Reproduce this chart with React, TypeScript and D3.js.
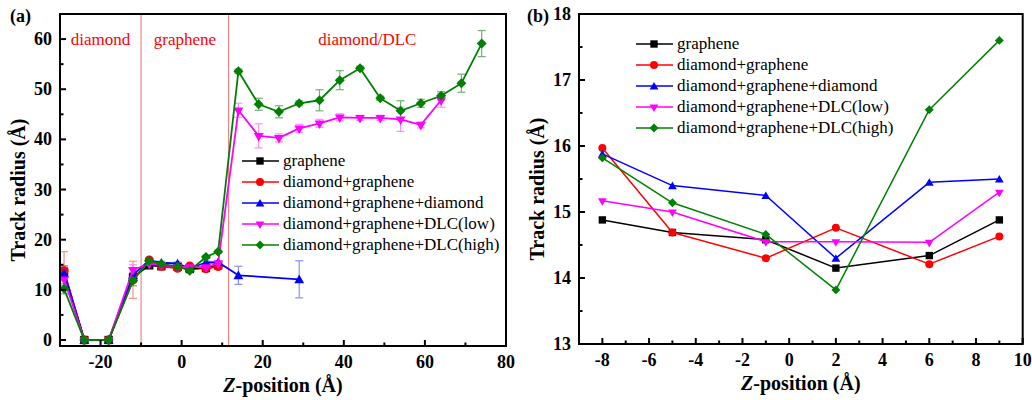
import React from "react";
import * as d3 from "d3";

// ---------- DATA ----------
const seriesNames = [
  "graphene",
  "diamond+graphene",
  "diamond+graphene+diamond",
  "diamond+graphene+DLC(low)",
  "diamond+graphene+DLC(high)",
];
const seriesColors = ["#000000", "#ff0000", "#0000ff", "#ff00ff", "#008000"];
const errColors = ["#777777", "#ff8080", "#8080ff", "#ff80ff", "#66aa66"];

// panel (a)
const zBase = [-29, -24, -18, -12, -8, -5, -1, 2, 6, 9];
const zBlueExtra = [14, 29];
const zLowExtra = [14, 19, 24, 29, 34, 39, 44, 49, 54, 59, 64];
const zHighExtra = [14, 19, 24, 29, 34, 39, 44, 49, 54, 59, 64, 69, 74];

const aGraphene = [13.5, 0, 0, 12.5, 14.88, 14.69, 14.58, 14.15, 14.34, 14.88];
const aDiaGra = [13.8, 0, 0, 12.0, 15.97, 14.69, 14.3, 14.76, 14.21, 14.63];
const aDiaGraDia = [13.3, 0, 0, 13.0, 15.88, 15.4, 15.25, 14.3, 15.45, 15.5, 12.9, 12.1];
const aLow = [12.1, 0, 0, 14.0, 15.17, 15.0, 14.55, 14.55, 14.54, 15.3,
  45.8, 40.7, 40.3, 42.2, 43.2, 44.4, 44.3, 44.3, 44.0, 42.9, 47.8];
const aHigh = [10.2, 0, 0, 11.8, 15.82, 15.14, 14.66, 13.82, 16.55, 17.6,
  53.6, 47.0, 45.5, 47.2, 47.8, 51.8, 54.2, 48.2, 45.7, 47.2, 48.7, 51.2, 59.1];

const eGraphene = [1.0, 0, 0, 1.0, 0.3, 0.3, 0.3, 0.3, 0.3, 0.3];
const eDiaGra = [3.8, 0, 0, 3.7, 0.3, 0.3, 0.3, 0.3, 0.3, 0.3];
const eDiaGraDia = [1.5, 0, 0, 1.2, 0.3, 0.3, 0.3, 0.3, 0.3, 0.3, 1.8, 3.7];
const eLow = [1.2, 0, 0, 1.0, 0.3, 0.3, 0.3, 0.3, 0.3, 0.3,
  1.4, 2.4, 0.8, 0.8, 0.8, 0.7, 0.5, 0.5, 2.4, 0.6, 1.4];
const eHigh = [1.0, 0, 0, 1.0, 0.3, 0.3, 0.3, 0.3, 0.3, 0.3,
  0.4, 1.2, 1.2, 0.5, 2.1, 1.9, 0.4, 0.4, 2.0, 0.8, 0.8, 1.8, 2.6];

// panel (b)
const zB = [-8, -5, -1, 2, 6, 9];
const bGraphene = [14.88, 14.69, 14.58, 14.15, 14.34, 14.88];
const bDiaGra = [15.97, 14.69, 14.3, 14.76, 14.21, 14.63];
const bDiaGraDia = [15.88, 15.4, 15.25, 14.3, 15.45, 15.5];
const bLow = [15.17, 15.0, 14.55, 14.55, 14.54, 15.3];
const bHigh = [15.82, 15.14, 14.66, 13.82, 16.55, 17.6];

const regionLabels = ["diamond", "graphene", "diamond/DLC"];
const regionBounds = [-10, 11.6];

const xTicksA = [-20, 0, 20, 40, 60, 80];
const yTicksA = [0, 10, 20, 30, 40, 50, 60];
const xTicksB = [-8, -6, -4, -2, 0, 2, 4, 6, 8, 10];
const yTicksB = [13, 14, 15, 16, 17, 18];

// ---------- HELPERS ----------
const FONT = "Liberation Serif, Times New Roman, serif";
const shapes = ["square", "circle", "tri", "itri", "diamond"];

function markerPath(kind: string, s: number) {
  if (kind === "square") return d3.symbol(d3.symbolSquare, s * s * 0.85)();
  if (kind === "circle") return d3.symbol(d3.symbolCircle, (Math.PI * s * s) / 4)();
  if (kind === "tri" || kind === "itri") return d3.symbol(d3.symbolTriangle, (Math.sqrt(3) / 4) * s * s * 1.2)();
  return d3.symbol(d3.symbolSquare, (s * s) * 0.62)();
}
function markerTransform(kind: string, x: number, y: number) {
  if (kind === "itri") return `translate(${x},${y}) rotate(180)`;
  if (kind === "diamond") return `translate(${x},${y}) rotate(45)`;
  if (kind === "tri") return `translate(${x},${y + 1})`;
  return `translate(${x},${y})`;
}

type Series = { x: number[]; y: number[]; e?: number[] };

function Panel(props: {
  x0: number; x1: number; y0: number; y1: number;
  xDom: [number, number]; yDom: [number, number];
  xTicks: number[]; yTicks: number[];
  xMinor: number[]; yMinor: number[];
  series: Series[]; msize: number; lw: number;
  legendX: number; legendY: number; legendDy: number;
  labelX: number;
  children?: (x: d3.ScaleLinear<number, number>, y: d3.ScaleLinear<number, number>) => React.ReactNode;
}) {
  const p = props;
  const x = d3.scaleLinear().domain(p.xDom).range([p.x0, p.x1]);
  const y = d3.scaleLinear().domain(p.yDom).range([p.y1, p.y0]);
  const line = d3.line<[number, number]>().x((d) => x(d[0])).y((d) => y(d[1]));
  const cx = (p.x0 + p.x1) / 2;
  const cy = (p.y0 + p.y1) / 2;
  const tf = { fontFamily: FONT };
  return (
    <g>
      {p.children && p.children(x, y)}
      {/* error bars */}
      {p.series.map((s, i) =>
        s.e ? (
          <g key={"e" + i} stroke={errColors[i]} strokeWidth={1.2} opacity={0.9}>
            {s.x.map((xv, j) =>
              s.e![j] > 0 ? (
                <g key={j}>
                  <line x1={x(xv)} x2={x(xv)} y1={y(s.y[j] - s.e![j])} y2={y(s.y[j] + s.e![j])} />
                  <line x1={x(xv) - 4} x2={x(xv) + 4} y1={y(s.y[j] - s.e![j])} y2={y(s.y[j] - s.e![j])} />
                  <line x1={x(xv) - 4} x2={x(xv) + 4} y1={y(s.y[j] + s.e![j])} y2={y(s.y[j] + s.e![j])} />
                </g>
              ) : null
            )}
          </g>
        ) : null
      )}
      {/* lines and markers */}
      {p.series.map((s, i) => (
        <g key={"s" + i}>
          <path
            d={line(s.x.map((xv, j) => [xv, s.y[j]] as [number, number])) || ""}
            fill="none"
            stroke={seriesColors[i]}
            strokeWidth={p.lw}
            strokeLinejoin="round"
          />
          {s.x.map((xv, j) => (
            <path
              key={j}
              d={markerPath(shapes[i], p.msize) || ""}
              transform={markerTransform(shapes[i], x(xv), y(s.y[j]))}
              fill={seriesColors[i]}
            />
          ))}
        </g>
      ))}
      {/* frame */}
      <rect x={p.x0} y={p.y0} width={p.x1 - p.x0} height={p.y1 - p.y0} fill="none" stroke="#000" strokeWidth={2} />
      {/* ticks */}
      <g stroke="#000" strokeWidth={2}>
        {p.xTicks.map((t) => (
          <line key={"xt" + t} x1={x(t)} x2={x(t)} y1={p.y1} y2={p.y1 - 6} />
        ))}
        {p.xMinor.map((t) => (
          <line key={"xm" + t} x1={x(t)} x2={x(t)} y1={p.y1} y2={p.y1 - 3.5} />
        ))}
        {p.yTicks.map((t) => (
          <line key={"yt" + t} x1={p.x0} x2={p.x0 + 6} y1={y(t)} y2={y(t)} />
        ))}
        {p.yMinor.map((t) => (
          <line key={"ym" + t} x1={p.x0} x2={p.x0 + 3.5} y1={y(t)} y2={y(t)} />
        ))}
      </g>
      <g style={tf} fontWeight="bold" fontSize={18} fill="#000">
        {p.xTicks.map((t) => (
          <text key={"xl" + t} x={x(t)} y={p.y1 + 22} textAnchor="middle">
            {t < 0 ? "-" + Math.abs(t) : String(t)}
          </text>
        ))}
        {p.yTicks.map((t) => (
          <text key={"yl" + t} x={p.x0 - 8} y={y(t) + 6} textAnchor="end">
            {t}
          </text>
        ))}
        <text x={cx} y={p.y1 + 46} textAnchor="middle" fontSize={20}>
          <tspan fontStyle="italic">Z</tspan>-position (Å)
        </text>
        <text
          transform={`translate(${p.labelX},${cy + 10}) rotate(-90)`}
          textAnchor="middle"
          fontSize={20}
        >
          Track radius (Å)
        </text>
      </g>
      {/* legend */}
      <g style={tf} fontSize={17}>
        {seriesNames.map((n, i) => {
          const ly = p.legendY + i * p.legendDy;
          return (
            <g key={"lg" + i}>
              <line x1={p.legendX} x2={p.legendX + 37} y1={ly} y2={ly} stroke={seriesColors[i]} strokeWidth={1.6} />
              <path
                d={markerPath(shapes[i], 8) || ""}
                transform={markerTransform(shapes[i], p.legendX + 18, ly)}
                fill={seriesColors[i]}
              />
              <text x={p.legendX + 41} y={ly + 5} fill="#000">
                {n}
              </text>
            </g>
          );
        })}
      </g>
    </g>
  );
}

export default function App() {
  const seriesA: Series[] = [
    { x: zBase, y: aGraphene, e: eGraphene },
    { x: zBase, y: aDiaGra, e: eDiaGra },
    { x: zBase.concat(zBlueExtra), y: aDiaGraDia, e: eDiaGraDia },
    { x: zBase.concat(zLowExtra), y: aLow, e: eLow },
    { x: zBase.concat(zHighExtra), y: aHigh, e: eHigh },
  ];
  const seriesB: Series[] = [
    { x: zB, y: bGraphene },
    { x: zB, y: bDiaGra },
    { x: zB, y: bDiaGraDia },
    { x: zB, y: bLow },
    { x: zB, y: bHigh },
  ];
  const xMinorA = d3.range(-30, 81, 10).filter((t) => t % 20 !== 0);
  const yMinorA = d3.range(5, 65, 10);
  const xMinorB = d3.range(-9, 10, 2);
  const yMinorB = d3.range(13.5, 18, 1);
  const tf = { fontFamily: FONT };

  return (
    <svg
      width={1032}
      height={400}
      style={{ position: "absolute", left: 0, top: 0, background: "#fff" }}
    >
      <rect width={1032} height={400} fill="#fff" />
      <text x={10} y={22} style={tf} fontWeight="bold" fontSize={18}>(a)</text>
      <text x={527} y={22} style={tf} fontWeight="bold" fontSize={18}>(b)</text>
      <Panel
        x0={60} x1={506} y0={14} y1={346}
        xDom={[-30, 80]} yDom={[-1.2, 65]}
        xTicks={xTicksA} yTicks={yTicksA}
        xMinor={xMinorA} yMinor={yMinorA}
        series={seriesA} msize={9} lw={1.8}
        legendX={242} legendY={161} legendDy={21}
        labelX={25}
      >
        {(x, y) => (
          <g>
            {regionBounds.map((b) => (
              <line key={b} x1={x(b)} x2={x(b)} y1={14} y2={346} stroke="#f07070" strokeWidth={1} />
            ))}
            <g style={tf} fontSize={17} fill="#ff0000" textAnchor="middle">
              <text x={(x(-30) + x(regionBounds[0])) / 2} y={45}>{regionLabels[0]}</text>
              <text x={(x(regionBounds[0]) + x(regionBounds[1])) / 2} y={45}>{regionLabels[1]}</text>
              <text x={(x(regionBounds[1]) + x(80)) / 2} y={45}>{regionLabels[2]}</text>
            </g>
          </g>
        )}
      </Panel>
      <Panel
        x0={579} x1={1022.7} y0={14} y1={344}
        xDom={[-9, 10]} yDom={[13, 18]}
        xTicks={xTicksB} yTicks={yTicksB}
        xMinor={xMinorB} yMinor={yMinorB}
        series={seriesB} msize={8} lw={1.5}
        legendX={636} legendY={44} legendDy={21}
        labelX={544}
      />
    </svg>
  );
}
